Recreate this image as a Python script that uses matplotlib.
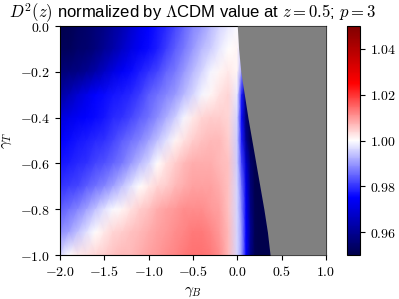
import matplotlib
matplotlib.use("Agg")
import numpy as np
import matplotlib.pyplot as plt
from matplotlib.ticker import FuncFormatter

# grid (gamma_B columns, gamma_T rows)
gamma_b = [-2.0, -1.9, -1.8, -1.7, -1.6, -1.5, -1.4, -1.3, -1.2, -1.1, -1.0,
           -0.9, -0.8, -0.7, -0.6, -0.5, -0.4, -0.3, -0.2, -0.1, 0.0,
           0.05, 0.1, 0.15, 0.2, 0.25, 0.3, 0.35, 0.4]
gamma_t = [0.0, -0.1, -0.2, -0.3, -0.4, -0.5, -0.6, -0.7, -0.8, -0.9, -1.0]

d2_ratio = [
    [.950, .951, .953, .954, .956, .958, .961, .964, .968, .972, .975, .977, .979, .982, .985, .988, .990, .993, .996, .998, .9995, 1.0, 1.0, 1.0, 1.0, 1.0, 1.0, 1.0, 1.0],
    [.952, .952, .954, .955, .957, .960, .963, .967, .971, .974, .976, .978, .981, .984, .987, .990, .993, .995, .998, 1.000, 1.001, .995, .98, .96, .95, .95, .95, .95, .95],
    [.956, .957, .958, .960, .963, .967, .971, .974, .976, .978, .980, .982, .985, .987, .990, .993, .996, .999, 1.001, 1.002, 1.001, .99, .97, .955, .95, .95, .95, .95, .95],
    [.962, .965, .969, .972, .975, .976, .977, .978, .979, .981, .984, .986, .988, .990, .993, .996, .999, 1.001, 1.003, 1.004, .998, .978, .956, .95, .95, .95, .95, .95, .95],
    [.970, .972, .974, .975, .976, .977, .979, .980, .982, .984, .986, .989, .992, .995, .999, 1.002, 1.004, 1.005, 1.005, 1.004, .996, .976, .956, .95, .95, .95, .95, .95, .95],
    [.975, .976, .977, .978, .979, .980, .982, .984, .986, .988, .991, .994, .997, 1.001, 1.003, 1.005, 1.006, 1.007, 1.007, 1.005, .995, .978, .96, .95, .95, .95, .95, .95, .95],
    [.977, .978, .979, .980, .982, .983, .985, .987, .990, .993, .996, 1.000, 1.003, 1.005, 1.007, 1.008, 1.008, 1.008, 1.007, 1.006, .995, .982, .968, .955, .95, .95, .95, .95, .95],
    [.980, .981, .982, .984, .986, .988, .991, .994, .997, 1.000, 1.002, 1.004, 1.005, 1.007, 1.008, 1.009, 1.009, 1.009, 1.008, 1.006, .996, .986, .972, .957, .95, .95, .95, .95, .95],
    [.984, .986, .988, .991, .994, .997, .9995, 1.001, 1.003, 1.005, 1.006, 1.008, 1.009, 1.010, 1.011, 1.011, 1.011, 1.010, 1.009, 1.006, .996, .988, .974, .958, .951, .95, .95, .95, .95],
    [.989, .991, .994, .997, 1.000, 1.002, 1.004, 1.005, 1.006, 1.007, 1.008, 1.009, 1.010, 1.011, 1.012, 1.013, 1.013, 1.012, 1.010, 1.007, .996, .99, .975, .96, .951, .95, .95, .95, .95],
    [.996, 1.000, 1.002, 1.003, 1.004, 1.005, 1.006, 1.007, 1.007, 1.008, 1.009, 1.010, 1.011, 1.012, 1.013, 1.014, 1.014, 1.013, 1.011, 1.007, .996, .99, .975, .958, .951, .95, .95, .95, .95],
]

# edge of the allowed region (right of it there is no solution)
edge_t = [0.0, -0.1, -0.2, -0.3, -0.4, -0.5, -0.6, -0.7, -0.8, -0.9, -1.0]
edge_b = [0.0, 0.015, 0.04, 0.08, 0.12, 0.165, 0.21, 0.255, 0.30, 0.34, 0.37]

plt.rcParams['mathtext.fontset'] = 'cm'
plt.rcParams['font.family'] = 'Liberation Sans'

fig = plt.figure(figsize=(3.99, 2.99), dpi=100)
ax = fig.add_axes([0.150, 0.147, 0.667, 0.766])
cax = fig.add_axes([0.870, 0.147, 0.033, 0.766])

B, T = np.meshgrid(gamma_b, gamma_t)
mesh = ax.pcolormesh(B, T, np.array(d2_ratio), cmap='seismic',
                     vmin=0.95, vmax=1.05, shading='gouraud')
ax.fill_betweenx(edge_t, edge_b, 1.0, color='gray', lw=0, zorder=3)

ax.set_xlim(-2, 1)
ax.set_ylim(-1, 0)
ax.set_xticks([-2.0, -1.5, -1.0, -0.5, 0.0, 0.5, 1.0])
ax.set_yticks([-1.0, -0.8, -0.6, -0.4, -0.2, 0.0])
fmt = FuncFormatter(lambda v, pos: f"${v:.1f}$")
ax.xaxis.set_major_formatter(fmt)
ax.yaxis.set_major_formatter(fmt)
ax.tick_params(labelsize=10)
ax.set_xlabel(r"$\gamma_B$", fontsize=11)
ax.set_ylabel(r"$\gamma_T$", fontsize=11)
ax.set_title(r"$D^2(z)$ normalized by $\Lambda$CDM value at $z=0.5$; $p=3$",
             fontsize=12)

cb = fig.colorbar(mesh, cax=cax, ticks=[0.96, 0.98, 1.00, 1.02, 1.04])
cb.ax.yaxis.set_major_formatter(FuncFormatter(lambda v, pos: f"${v:.2f}$"))
cb.ax.tick_params(labelsize=10)

fig.savefig("out.png", dpi=100)
